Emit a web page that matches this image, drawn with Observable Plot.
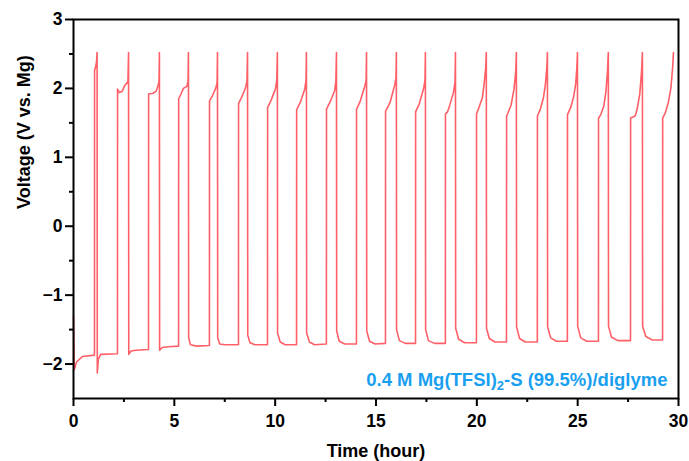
<!DOCTYPE html>
<html><head><meta charset="utf-8">
<script src="https://cdn.jsdelivr.net/npm/d3@7"></script>
<script src="https://cdn.jsdelivr.net/npm/@observablehq/plot@0.6"></script>
<style>body{margin:0;background:#fff} svg{display:block}</style>
</head><body><div id="chart"></div>
<script>
// Galvanostatic cycling curve
const timeHours = [
  0.00, 0.04, 0.15, 0.45, 1.04,
  1.045, 1.10, 1.14, 1.17, 1.18, 1.23, 1.35, 2.18,
  2.185, 2.28, 2.42, 2.52, 2.70, 2.73, 2.74, 2.85, 3.10, 3.72,
  3.725, 3.95, 4.10, 4.18, 4.24, 4.26, 4.27, 4.40, 4.70, 5.21,
  5.215, 5.35, 5.45, 5.62, 5.68, 5.70, 5.71, 5.80, 6.10, 6.74,
  6.745, 6.90, 7.05, 7.12, 7.14, 7.15, 7.25, 7.50, 8.18,
  8.185, 8.35, 8.53, 8.60, 8.63, 8.64, 8.75, 9.00, 9.62,
  9.625, 9.80, 10.01, 10.08, 10.11, 10.12, 10.25, 10.50, 11.06,
  11.065, 11.25, 11.47, 11.53, 11.55, 11.56, 11.70, 11.95, 12.54,
  12.545, 12.72, 12.95, 13.01, 13.04, 13.05, 13.18, 13.45, 14.03,
  14.035, 14.20, 14.45, 14.51, 14.53, 14.54, 14.68, 14.95, 15.47,
  15.475, 15.62, 15.70, 15.93, 15.99, 16.01, 16.02, 16.16, 16.45, 16.96,
  16.965, 17.15, 17.37, 17.43, 17.45, 17.46, 17.60, 17.90, 18.44,
  18.445, 18.55, 18.65, 18.85, 18.92, 18.94, 18.95, 19.10, 19.40, 19.98,
  19.985, 20.10, 20.27, 20.36, 20.44, 20.47, 20.48, 20.62, 20.90, 21.47,
  21.475, 21.55, 21.70, 21.85, 21.93, 21.96, 21.97, 22.12, 22.40, 23.00,
  23.005, 23.15, 23.30, 23.40, 23.47, 23.50, 23.51, 23.66, 23.95, 24.49,
  24.495, 24.65, 24.80, 24.90, 24.96, 24.99, 25.00, 25.15, 25.45, 26.03,
  26.035, 26.15, 26.30, 26.40, 26.48, 26.52, 26.53, 26.68, 27.00, 27.62,
  27.625, 27.85, 27.95, 28.08, 28.17, 28.21, 28.22, 28.38, 28.70, 29.21,
  29.215, 29.35, 29.50, 29.62, 29.71, 29.75
];
const voltage = [
  -1.30, -2.08, -1.97, -1.89, -1.87,
  2.26, 2.32, 2.38, 2.52, -2.13, -1.93, -1.86, -1.85,
  1.99, 1.94, 1.96, 2.03, 2.10, 2.52, -1.86, -1.81, -1.80, -1.79,
  1.92, 1.93, 1.96, 2.03, 2.10, 2.52, -1.80, -1.76, -1.75, -1.74,
  1.85, 1.93, 2.00, 2.03, 2.10, 2.52, -1.62, -1.72, -1.74, -1.73,
  1.82, 1.90, 2.00, 2.08, 2.52, -1.62, -1.71, -1.72, -1.72,
  1.78, 1.88, 2.01, 2.10, 2.52, -1.58, -1.69, -1.72, -1.72,
  1.72, 1.83, 1.99, 2.12, 2.52, -1.55, -1.68, -1.72, -1.72,
  1.69, 1.80, 1.99, 2.12, 2.52, -1.55, -1.68, -1.72, -1.71,
  1.70, 1.80, 1.97, 2.10, 2.52, -1.52, -1.67, -1.71, -1.71,
  1.70, 1.80, 2.04, 2.12, 2.52, -1.52, -1.67, -1.71, -1.70,
  1.67, 1.75, 1.80, 2.05, 2.15, 2.52, -1.50, -1.66, -1.70, -1.70,
  1.66, 1.78, 2.01, 2.12, 2.52, -1.50, -1.66, -1.70, -1.70,
  1.63, 1.66, 1.75, 1.95, 2.10, 2.52, -1.48, -1.64, -1.69, -1.69,
  1.63, 1.72, 1.86, 2.06, 2.30, 2.52, -1.48, -1.63, -1.68, -1.68,
  1.60, 1.65, 1.76, 2.00, 2.25, 2.52, -1.46, -1.63, -1.68, -1.68,
  1.60, 1.70, 1.86, 2.06, 2.30, 2.52, -1.46, -1.62, -1.67, -1.67,
  1.62, 1.72, 1.88, 2.06, 2.30, 2.52, -1.45, -1.62, -1.67, -1.67,
  1.57, 1.62, 1.75, 1.95, 2.25, 2.52, -1.45, -1.61, -1.66, -1.66,
  1.57, 1.60, 1.70, 1.92, 2.25, 2.52, -1.45, -1.60, -1.65, -1.65,
  1.57, 1.65, 1.80, 2.00, 2.30, 2.52
];
const xTicks = [0, 5, 10, 15, 20, 25, 30];
const xMinorTicks = [2.5, 7.5, 12.5, 17.5, 22.5, 27.5];
const yTicks = [-2, -1, 0, 1, 2, 3];
const yMinorTicks = [-1.5, -0.5, 0.5, 1.5, 2.5];
const xTitle = "Time (hour)";
const yTitle = "Voltage (V vs. Mg)";
const legendLabel = "0.4 M Mg(TFSI)2-S (99.5%)/diglyme";

const data = timeHours.map((t, i) => ({t, v: voltage[i]}));
const font = "'Liberation Sans', Arial, sans-serif";
const fmt = d => d < 0 ? "\u2212" + Math.abs(d) : String(d);

const plot = Plot.plot({
  width: 689, height: 461,
  marginLeft: 73, marginRight: 11, marginTop: 19, marginBottom: 63,
  style: {fontFamily: font, fontWeight: "bold", fontSize: "17px", color: "#000", background: "#fff"},
  x: {domain: [0, 30]},
  y: {domain: [-2.5, 3]},
  marks: [
    Plot.line(data, {x: "t", y: "v", stroke: "#ff6068", strokeWidth: 1.6}),
    Plot.frame({stroke: "#000", strokeWidth: 2}),
    Plot.axisX(xTicks, {tickSize: 8, tickPadding: 8, strokeWidth: 2, label: null, fontSize: 17.5, fontWeight: "bold", tickFormat: fmt}),
    Plot.axisX(xMinorTicks, {tickSize: 4, strokeWidth: 2, text: null, label: null}),
    Plot.axisY(yTicks, {tickSize: 8, tickPadding: 3, strokeWidth: 2, label: null, fontSize: 17.5, fontWeight: "bold", tickFormat: fmt}),
    Plot.axisY(yMinorTicks, {tickSize: 4, strokeWidth: 2, text: null, label: null}),
    Plot.text([xTitle], {text: d => d, frameAnchor: "bottom", dy: 58, fontSize: 18, fontWeight: "bold", fill: "#000"}),
    Plot.text([yTitle], {text: d => d, frameAnchor: "left", dx: -49, rotate: -90, fontSize: 18, fontWeight: "bold", fill: "#000"}),
    Plot.text([legendLabel], {text: d => d, frameAnchor: "bottom-right", dx: -11, dy: -18, textAnchor: "end", lineAnchor: "middle", fill: "#1a9ff0", fontSize: 18.5, fontWeight: "bold"})
  ]
});
document.getElementById("chart").appendChild(plot);

// render the subscript "2" in the legend label
d3.select(plot).selectAll("text").filter(function () { return this.textContent === legendLabel; })
  .each(function () {
    const el = d3.select(this);
    el.text(null);
    el.append("tspan").text("0.4 M Mg(TFSI)");
    el.append("tspan").attr("dy", 4).attr("font-size", 13).text("2");
    el.append("tspan").attr("dy", -4).text("-S (99.5%)/diglyme");
  });
</script>
</body></html>
